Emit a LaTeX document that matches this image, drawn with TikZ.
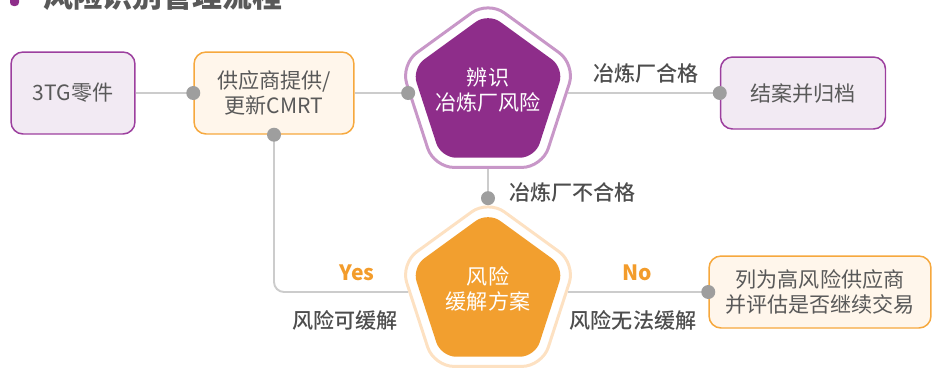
\documentclass[tikz,border=0pt]{standalone}
\usepackage{fontspec}
\setmainfont{Noto Sans CJK SC}
\newfontfamily\medfont{Noto Sans CJK SC Medium}
\usetikzlibrary{shapes.geometric}

\definecolor{txtgray}{HTML}{595959}
\definecolor{lblgray}{HTML}{4D4D4D}
\definecolor{linegray}{HTML}{CCCCCC}
\definecolor{dotgray}{HTML}{9E9E9E}
\definecolor{purpleln}{HTML}{9C3F9E}
\definecolor{purplebg}{HTML}{F2EAF3}
\definecolor{orangeln}{HTML}{F6A83D}
\definecolor{orangebg}{HTML}{FFF6EB}
\definecolor{purplefill}{HTML}{8E2D8A}
\definecolor{purplering}{HTML}{C897C8}
\definecolor{orangefill}{HTML}{F29F2F}
\definecolor{orangering}{HTML}{FDE1C2}
\definecolor{yesno}{HTML}{F39C2B}

\begin{document}
\begin{tikzpicture}[x=0.02cm, y=-0.02cm,
    pbox/.style={rectangle, rounded corners=0.24cm, draw=purpleln, fill=purplebg, line width=0.85pt,
      text=txtgray, align=center, inner sep=0pt, font=\fontsize{12}{14.5}\selectfont},
    obox/.style={pbox, draw=orangeln, fill=orangebg},
    ring/.style={regular polygon, regular polygon sides=5, minimum size=3.68cm, inner sep=0pt,
      rounded corners=0.4cm, fill=white, line width=1.7pt},
    penta/.style={regular polygon, regular polygon sides=5, minimum size=3.2cm, inner sep=0pt,
      rounded corners=0.3cm},
    ptext/.style={text=white, align=center, font=\fontsize{12}{14.5}\selectfont},
    conn/.style={draw=linegray, line width=1.1pt},
    lbl/.style={text=lblgray, font=\fontsize{12}{14.5}\medfont},
    yn/.style={text=yesno, font=\fontsize{12}{14.5}\selectfont\bfseries}]

    \useasboundingbox (0,0) rectangle (932,369);
    \clip (0,0) rectangle (932,369);

    % Title (cut off at the top)
    \fill[purplefill, rounded corners=2pt] (10,-20) rectangle (19,6);
    \node[anchor=base west, text=txtgray, font=\fontsize{17}{20}\selectfont\bfseries] (title) at (37,7) {风险识别管理流程};

    % Place the boxes
    \node[pbox, minimum width=2.48cm, minimum height=1.64cm] (part) at (73,93) {3TG零件};
    \node[obox, minimum width=3.2cm, minimum height=1.64cm] (supply) at (274,93) {供应商提供/\\更新CMRT};
    \node[pbox, minimum width=3.3cm, minimum height=1.44cm] (close) at (803,93) {结案并归档};
    \node[obox, minimum width=4.44cm, minimum height=1.44cm] (high) at (820,292) {列为高风险供应商\\并评估是否继续交易};

    % Place the pentagons
    \node[ring, draw=purplering] (idOut) at (488,93) {};
    \node[penta, fill=purplefill] (id) at (488,93) {};
    \node[ptext] (idText) at (488,90) {辨识\\冶炼厂风险};
    \node[ring, draw=orangering] (easeOut) at (488,292) {};
    \node[penta, fill=orangefill] (ease) at (488,292) {};
    \node[ptext] (easeText) at (488,289) {风险\\缓解方案};

    % Draw the connectors
    \draw[conn] (part.east) -- (supply.west);
    \draw[conn] (supply.east) -- (idOut.west);
    \draw[conn] (idOut.east) -- (close.west);
    \draw[conn] (idOut.south) -- (easeOut.north);
    \draw[conn, rounded corners=0.2cm] (easeOut.west) -| (supply.south);
    \draw[conn] (easeOut.east) -- (high.west);

    % Dots at the ends
    \foreach \p in {supply.west, idOut.west, close.west, easeOut.north, supply.south, high.west}
        \fill[dotgray] (\p) circle (0.14cm);

    % Labels
    \node[lbl] (pass) at (646,73) {冶炼厂合格};
    \node[lbl, anchor=west] (fail) at (503,192) {冶炼厂不合格};
    \node[yn] (yes) at (357,273) {Yes};
    \node[lbl] (canEase) at (345,320) {风险可缓解};
    \node[yn] (no) at (637,273) {No};
    \node[lbl] (noEase) at (633,320) {风险无法缓解};

\end{tikzpicture}
\end{document}
